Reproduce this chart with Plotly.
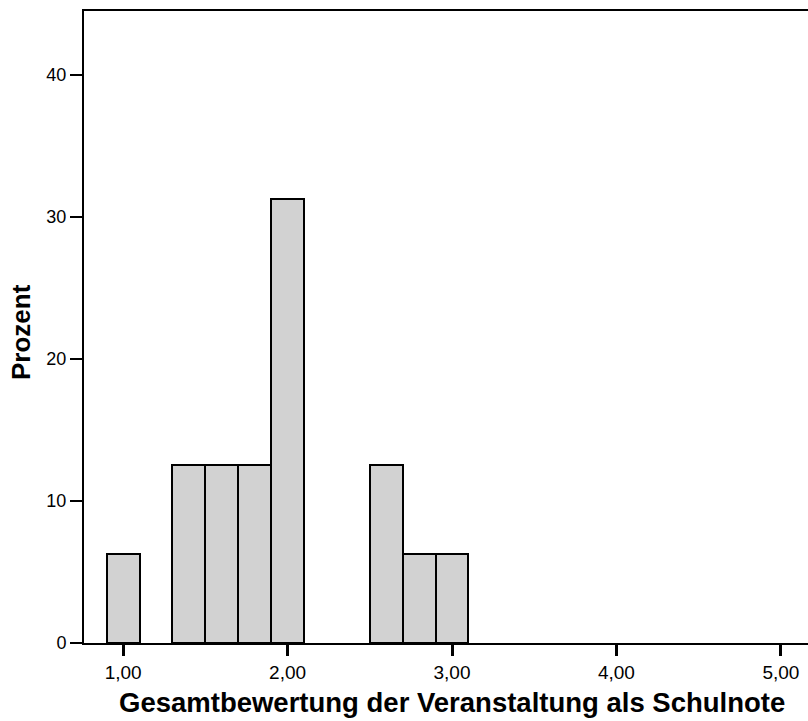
import plotly.graph_objects as go

# Data
bin_centers = [1.0, 1.4, 1.6, 1.8, 2.0, 2.6, 2.8, 3.0]
percent = [6.25, 12.5, 12.5, 12.5, 31.25, 12.5, 6.25, 6.25]
bin_width = 0.2
x_tick_vals = [1, 2, 3, 4, 5]
x_tick_text = ["1,00", "2,00", "3,00", "4,00", "5,00"]
y_tick_vals = [0, 10, 20, 30, 40]

fig = go.Figure()
fig.add_trace(go.Bar(
    x=bin_centers, y=percent, width=[bin_width] * len(bin_centers),
    marker=dict(color="#d2d2d2", line=dict(color="black", width=2)),
    showlegend=False,
))

font = "Liberation Sans, Arial, sans-serif"
fig.update_layout(
    width=808, height=721,
    margin=dict(l=84, r=0, t=11, b=78),
    paper_bgcolor="white", plot_bgcolor="white",
    bargap=0,
    font=dict(family=font, color="black", size=18),
    xaxis=dict(
        range=[0.762, 5.165], automargin=False,
        tickvals=x_tick_vals, ticktext=x_tick_text,
        ticks="outside", ticklen=11, tickwidth=3, tickcolor="black",
        showline=True, linecolor="black", linewidth=2, mirror=True,
        showgrid=False, zeroline=False,
        tickfont=dict(size=19, family=font),
    ),
    yaxis=dict(
        range=[0, 44.5], automargin=False,
        tickvals=y_tick_vals,
        ticks="outside", ticklen=12, tickwidth=2, tickcolor="black",
        showline=True, linecolor="black", linewidth=2,
        showgrid=False, zeroline=False,
        tickfont=dict(size=18, family=font),
    ),
    annotations=[
        dict(text="<b>Gesamtbewertung der Veranstaltung als Schulnote</b>",
             xref="paper", yref="paper", x=0.508, y=0, xanchor="center", yanchor="middle",
             yshift=-59, showarrow=False, font=dict(size=27.5, family=font)),
        dict(text="<b>Prozent</b>", textangle=-90,
             xref="paper", yref="paper", x=0, y=0.492, xanchor="center", yanchor="middle",
             xshift=-63, showarrow=False, font=dict(size=26, family=font)),
    ],
)

fig.write_html(
    "out.html",
    config={"displayModeBar": False},
    post_script="document.body.style.margin='0';document.body.style.overflow='hidden';",
)
